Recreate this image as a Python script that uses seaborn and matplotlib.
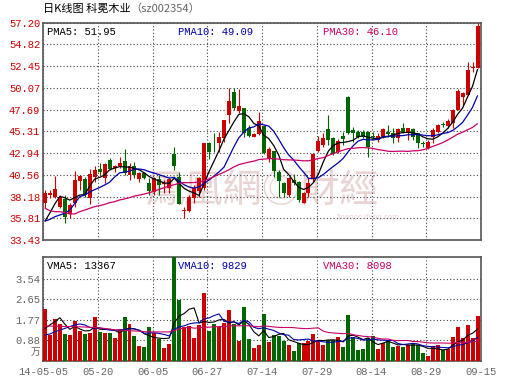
import numpy as np
import pandas as pd
import matplotlib
matplotlib.use("Agg")
import matplotlib.pyplot as plt
import seaborn as sns

# ---- data ----
opens = [37.51, 38.39, 38.10, 37.08, 37.88, 36.28, 37.44, 39.92, 40.10, 37.99,
         40.36, 41.20, 40.18, 42.18, 41.27, 41.53, 42.11, 40.54, 41.53, 40.10,
         40.72, 39.70, 38.72, 40.07, 39.56, 39.08, 42.84, 40.29, 36.64, 36.64,
         37.99, 38.79, 39.08, 44.08, 44.08, 44.08, 44.55, 47.10, 49.66, 47.58,
         47.91, 45.65, 44.73, 44.99, 45.90, 42.25, 43.17, 40.91, 39.63, 38.35,
         39.99, 39.81, 37.51, 38.54, 40.18, 43.20, 43.82, 45.57, 44.62, 43.09,
         44.84, 49.11, 45.46, 45.28, 45.28, 45.28, 44.81, 44.37, 44.73, 45.28,
         45.10, 44.55, 45.65, 45.28, 45.53, 45.10, 44.08, 43.46, 44.73, 45.28,
         46.12, 45.90, 46.19, 47.65, 49.11, 49.29, 52.21, 52.21]
highs = [38.90, 38.90, 40.47, 38.35, 38.35, 37.44, 40.98, 40.54, 40.36, 41.16,
         41.53, 41.89, 41.82, 42.36, 41.63, 42.55, 43.35, 41.89, 42.00, 40.91,
         40.83, 40.18, 40.36, 40.54, 39.99, 40.18, 43.64, 40.91, 37.08, 38.35,
         39.45, 40.36, 44.00, 44.19, 45.10, 45.28, 46.56, 50.09, 50.02, 49.91,
         47.91, 46.01, 45.10, 47.40, 46.01, 43.57, 43.17, 41.09, 39.81, 40.36,
         40.65, 39.92, 38.72, 40.18, 42.91, 44.81, 45.17, 47.10, 44.73, 44.44,
         45.28, 49.18, 45.83, 45.46, 45.46, 45.35, 45.28, 45.17, 45.65, 46.01,
         45.65, 45.65, 46.26, 45.72, 45.65, 45.17, 44.30, 44.37, 45.65, 46.12,
         46.37, 46.63, 47.72, 49.91, 49.66, 52.93, 52.93, 57.20]
lows = [36.90, 37.99, 38.05, 36.90, 35.25, 35.80, 37.08, 38.90, 38.17, 37.37,
        39.81, 40.54, 39.70, 41.09, 40.91, 41.27, 40.54, 39.99, 40.18, 39.81,
        40.07, 38.35, 38.35, 38.35, 38.54, 38.54, 41.09, 37.37, 35.80, 36.53,
        37.51, 38.17, 38.90, 42.25, 43.09, 43.09, 44.19, 46.19, 47.65, 47.29,
        44.66, 44.66, 44.66, 44.92, 42.84, 42.00, 40.29, 38.17, 38.17, 38.17,
        39.45, 37.62, 37.51, 38.17, 39.81, 43.09, 43.64, 43.82, 42.73, 42.91,
        43.82, 45.00, 44.20, 44.55, 44.55, 42.55, 44.37, 44.19, 44.55, 44.73,
        44.00, 44.19, 45.10, 44.37, 44.37, 43.46, 43.64, 43.35, 44.00, 45.17,
        45.75, 45.65, 45.65, 47.65, 48.20, 49.29, 51.84, 52.21]
closes = [38.54, 38.61, 39.01, 38.17, 35.91, 37.26, 40.00, 40.43, 38.35, 40.61,
          41.09, 40.91, 41.74, 41.20, 41.53, 41.89, 40.80, 41.53, 40.54, 40.72,
          40.18, 38.83, 40.18, 39.45, 39.70, 40.07, 41.53, 37.37, 36.71, 38.17,
          39.08, 40.18, 44.00, 43.09, 44.00, 44.73, 46.56, 48.64, 47.83, 48.09,
          45.17, 44.81, 45.03, 46.45, 42.98, 43.35, 41.02, 39.92, 38.54, 40.18,
          39.63, 37.81, 38.61, 39.70, 42.80, 44.26, 44.62, 44.37, 42.80, 44.26,
          44.48, 45.10, 45.10, 44.73, 44.73, 43.64, 44.66, 44.81, 45.53, 45.03,
          44.55, 45.53, 45.28, 45.65, 44.73, 44.00, 43.93, 44.19, 45.46, 46.01,
          46.01, 46.48, 47.65, 49.76, 49.47, 52.02, 52.39, 56.84]
# volume in 万 (10k)
volumes = [2.23, 1.12, 1.81, 1.59, 1.16, 1.12, 1.72, 1.30, 1.16, 1.22,
           1.90, 1.26, 1.22, 1.22, 1.00, 1.36, 1.90, 1.59, 1.07, 0.65,
           0.62, 1.48, 1.22, 0.93, 0.57, 0.73, 4.80, 2.62, 1.48, 1.50,
           1.00, 1.55, 2.94, 1.30, 1.59, 1.45, 1.65, 2.19, 1.59, 0.87,
           2.33, 0.93, 0.57, 0.69, 2.02, 0.83, 1.12, 1.07, 0.87, 0.69,
           0.44, 0.76, 0.76, 0.87, 1.16, 0.90, 0.69, 0.90, 0.90, 1.02,
           0.59, 1.98, 1.05, 0.47, 0.50, 0.97, 1.07, 0.52, 0.79, 0.87,
           0.62, 0.65, 0.62, 0.69, 0.79, 0.69, 0.36, 0.21, 0.65, 0.69,
           0.47, 0.50, 1.02, 1.45, 0.97, 1.55, 0.97, 1.93]

# moving-average values at the left edge (they depend on days before the window)
ma5_head = [35.5, 36.4, 37.4, 38.2]
ma10_head = [35.51, 35.69, 35.98, 36.17, 36.35, 36.71, 37.44, 38.17, 38.35]
ma30_head = [36.90, 36.64, 36.53, 36.53, 36.42, 36.28, 36.28, 36.53, 36.71, 36.90,
             37.08, 37.19, 37.33, 37.51, 37.62, 37.81, 37.92, 38.06, 38.24, 38.35,
             38.46, 38.61, 38.79, 38.97, 39.16, 39.34, 39.48, 39.63, 39.70]
vma5_head = [1.40, 1.55, 1.69, 1.86]
vma10_head = [1.12, 1.16, 1.26, 1.33, 1.40, 1.48, 1.55, 1.59, 1.55]
vma30_head = [1.50, 1.50, 1.49, 1.49, 1.48, 1.48, 1.47, 1.47, 1.46, 1.45,
              1.44, 1.42, 1.40, 1.37, 1.34, 1.33, 1.32, 1.30, 1.29, 1.28,
              1.26, 1.25, 1.25, 1.25, 1.25, 1.25, 1.30, 1.38, 1.42]

date_labels = ['14-05-05', '05-20', '06-05', '06-27', '07-14',
               '07-29', '08-14', '08-29', '09-15']
price_labels = ['33.43', '35.81', '38.18', '40.56', '42.94', '45.31',
                '47.69', '50.07', '52.45', '54.82', '57.20']
vol_labels = ['0.88', '1.77', '2.65', '3.54']
pma_text = ['PMA5: 51.95', 'PMA10: 49.09', 'PMA30: 46.10']
vma_text = ['VMA5: 13367', 'VMA10: 9829', 'VMA30: 8098']

RED = '#cc0000'
GREEN = '#006600'
BLUE = '#0000aa'
PINK = '#cc0066'
GRID = '#444444'
FRAME = '#555555'
GRAY = '#666666'


def with_head(s, n, head):
    ma = s.rolling(n).mean()
    ma.iloc[:len(head)] = head
    return ma


df = pd.DataFrame({'open': opens, 'high': highs, 'low': lows,
                   'close': closes, 'vol': volumes})
df['x'] = np.arange(len(df))
df['color'] = np.where(df['close'] >= df['open'], RED, GREEN)
df['ma5'] = with_head(df['close'], 5, ma5_head)
df['ma10'] = with_head(df['close'], 10, ma10_head)
df['ma30'] = with_head(df['close'], 30, ma30_head)
df['vma5'] = with_head(df['vol'], 5, vma5_head)
df['vma10'] = with_head(df['vol'], 10, vma10_head)
df['vma30'] = with_head(df['vol'], 30, vma30_head)

sns.set_style("white")
plt.rcParams['font.family'] = ['Liberation Mono', 'Noto Sans CJK SC']
CJK = ['Noto Sans CJK SC', 'DejaVu Sans']

fig = plt.figure(figsize=(5.3, 3.91), dpi=100)
W, H = 530, 391
ax = fig.add_axes([43 / W, 1 - 240 / H, 438 / W, 217.3 / H])
axv = fig.add_axes([43 / W, 1 - 361 / H, 438 / W, 103.7 / H])

xmin, xmax = -0.4, 87.7
xgrid = np.linspace(xmin, xmax, 9)

# ---- price panel ----
body_lo = df[['open', 'close']].min(axis=1)
body_h = (df['close'] - df['open']).abs().clip(lower=0.07)
ax.vlines(df['x'], df['low'], df['high'], colors=df['color'], lw=0.8, zorder=3)
ax.bar(df['x'], body_h, bottom=body_lo, width=0.8, color=df['color'],
       linewidth=0, zorder=4)
sns.lineplot(data=df, x='x', y='ma5', ax=ax, color='black', lw=0.9, zorder=5)
sns.lineplot(data=df, x='x', y='ma10', ax=ax, color=BLUE, lw=0.9, zorder=5)
sns.lineplot(data=df, x='x', y='ma30', ax=ax, color=PINK, lw=0.9, zorder=5)

ax.set_xlim(xmin, xmax)
ax.set_ylim(33.43, 57.20)
ax.set_yticks(np.linspace(33.43, 57.20, 11))
ax.set_yticklabels(price_labels)
ax.set_xticks(xgrid)
ax.set_xticklabels([])
ax.tick_params(axis='y', length=0, pad=2, labelsize=7.6, labelcolor=RED)
ax.tick_params(axis='x', length=0)
ax.set_xlabel('')
ax.set_ylabel('')
ax.grid(True, ls=(0, (1, 2)), color=GRID, lw=0.8, zorder=1)
ax.set_axisbelow(True)

for t, xp, c in zip(pma_text, [47, 178, 323], ['black', BLUE, PINK]):
    fig.text(xp / W, 1 - 32 / H, t, color=c, fontsize=7.6, va='center')

# watermark
ax.text(262 / W, 1 - 192 / H, '鳳凰網◎財經', transform=fig.transFigure,
        family=['Noto Sans CJK TC', 'DejaVu Sans'], fontsize=28,
        color='#ead3d3', ha='center', va='center', zorder=0.5)
ax.text(368 / W, 1 - 217 / H, 'finance.ifeng.com', transform=fig.transFigure,
        family=['DejaVu Sans'], fontsize=5, color='#ead3d3',
        ha='center', va='center', zorder=0.5)

# ---- volume panel ----
axv.bar(df['x'], df['vol'], width=0.8, color=df['color'], linewidth=0, zorder=3)
sns.lineplot(data=df, x='x', y='vma5', ax=axv, color='black', lw=0.8, zorder=5)
sns.lineplot(data=df, x='x', y='vma10', ax=axv, color=BLUE, lw=0.8, zorder=5)
sns.lineplot(data=df, x='x', y='vma30', ax=axv, color=PINK, lw=0.8, zorder=5)

axv.set_xlim(xmin, xmax)
axv.set_ylim(0, 4.455)
axv.set_yticks([0.885, 1.77, 2.655, 3.54])
axv.set_yticklabels(vol_labels)
axv.set_xticks(xgrid)
axv.set_xticklabels(date_labels)
axv.tick_params(axis='y', length=0, pad=2, labelsize=7.6, labelcolor=GRAY)
axv.tick_params(axis='x', length=0, pad=4, labelsize=7.6, labelcolor=GRAY)
axv.set_xlabel('')
axv.set_ylabel('')
axv.grid(True, ls=(0, (1, 2)), color=GRID, lw=0.8, zorder=1)
axv.set_axisbelow(True)
axv.text(-0.005, 0.39, '万', transform=axv.get_yaxis_transform(), family=CJK,
         fontsize=7, color=GRAY, ha='right', va='center')

for t, xp, c in zip(vma_text, [47, 178, 323], ['black', BLUE, PINK]):
    fig.text(xp / W, 1 - 266 / H, t, color=c, fontsize=7.6, va='center')

for a in (ax, axv):
    for sp in a.spines.values():
        sp.set_visible(True)
        sp.set_color(FRAME)
        sp.set_linewidth(1.2)

# title
fig.text(43 / W, 1 - 9 / H, '日K线图 科冕木业', family=CJK, fontsize=8,
         color='black', va='center')
fig.text(130 / W, 1 - 9 / H, '（sz002354）', family=CJK, fontsize=8,
         color=GRAY, va='center')

fig.savefig('out.png', dpi=100)
